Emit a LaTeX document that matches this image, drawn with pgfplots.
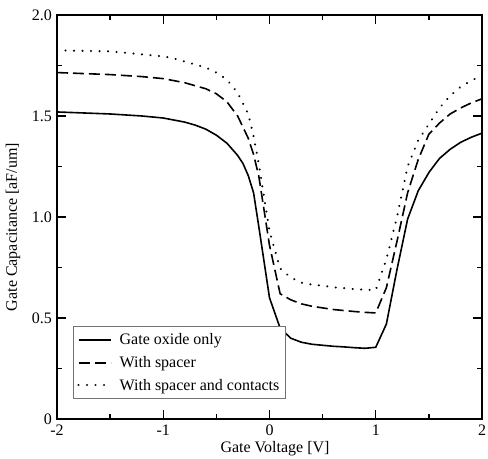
\documentclass[border=0pt]{standalone}
\usepackage{fontspec}
\setmainfont{Liberation Serif}
\usepackage{pgfplots}
\pgfplotsset{compat=1.18}
\begin{document}
\begin{tikzpicture}[font=\fontsize{16bp}{19bp}\selectfont]
\path[use as bounding box] (-57bp,-40bp) rectangle (431bp,419bp);
\begin{axis}[
  scale only axis, width=425bp, height=404bp,
  at={(0,0)}, anchor=south west,
  xmin=-2, xmax=2, ymin=0, ymax=2,
  xtick={-2,-1,0,1,2}, xticklabels={-2,-1,0,1,2},
  minor xtick={-1.5,-0.5,0.5,1.5},
  ytick={0,0.5,1,1.5,2}, yticklabels={0,0.5,1.0,1.5,2.0},
  minor ytick={0.25,0.75,1.25,1.75},
  tick align=inside, major tick length=9bp, minor tick length=5bp,
  every tick/.style={line width=1.4bp, black},
  axis line style={line width=1.6bp},
  tick label style={font=\fontsize{16bp}{19bp}\selectfont},
  xticklabel style={inner sep=0pt, yshift=-6bp},
  yticklabel style={inner sep=0pt, xshift=-5bp},
  /pgf/number format/assume math mode=true,
  xlabel={Gate Voltage [V]}, ylabel={Gate Capacitance [aF/um]},
  label style={font=\fontsize{16bp}{19bp}\selectfont},
  xlabel style={at={(axis description cs:0.513,-0.074)}, anchor=center},
  ylabel style={at={(axis description cs:-0.1035,0.475)}, anchor=center},
  legend cell align=left,
  legend style={at={(rel axis cs:0.0376,0.0495)}, anchor=south west, draw=black!55, line width=0.8bp,
    inner xsep=4bp, inner ysep=5bp, row sep=6bp, font=\fontsize{16bp}{19bp}\selectfont,
    /tikz/column 1/.style={column sep=6bp}},
  legend image code/.code={\draw[#1] (0bp,0bp) -- (32bp,0bp);},
]
\addplot[black, line width=1.6bp] coordinates {
(-2.0,1.52) (-1.5,1.51) (-1.2,1.50) (-1.0,1.49) (-0.9,1.48) (-0.8,1.47) (-0.7,1.455)
(-0.6,1.435) (-0.5,1.405) (-0.4,1.365) (-0.3,1.305) (-0.25,1.265) (-0.2,1.205) (-0.15,1.12) (-0.1,0.95) (0.0,0.60)
(0.1,0.45) (0.2,0.40)
(0.3,0.38) (0.4,0.37) (0.5,0.365) (0.6,0.36) (0.7,0.357) (0.8,0.353) (0.9,0.35)
(1.0,0.355) (1.1,0.47) (1.2,0.74) (1.3,0.99) (1.4,1.13) (1.5,1.22) (1.6,1.29)
(1.7,1.335) (1.8,1.37) (1.9,1.395) (2.0,1.415)};
\addlegendentry{Gate oxide only}
\addplot[black, line width=1.6bp, dash pattern=on 11bp off 5bp] coordinates {
(-2.0,1.715) (-1.5,1.705) (-1.2,1.695) (-1.0,1.685) (-0.9,1.675) (-0.8,1.665) (-0.7,1.65)
(-0.6,1.635) (-0.5,1.61) (-0.4,1.57) (-0.3,1.50) (-0.2,1.39) (-0.15,1.31) (-0.1,1.20) (0.0,0.86)
(0.1,0.62) (0.2,0.59)
(0.3,0.57) (0.4,0.558) (0.5,0.55) (0.6,0.542) (0.7,0.537) (0.8,0.532) (0.9,0.528)
(1.0,0.525) (1.1,0.65) (1.2,0.88) (1.3,1.12) (1.4,1.285) (1.5,1.41) (1.6,1.465)
(1.7,1.51) (1.8,1.54) (1.9,1.565) (2.0,1.585)};
\addlegendentry{With spacer}
\addplot[black, line width=2.3bp, line cap=round, dash pattern=on 0.01bp off 8.5bp] coordinates {
(-2.0,1.825) (-1.5,1.82) (-1.2,1.805) (-1.0,1.795) (-0.9,1.785) (-0.8,1.77) (-0.7,1.755)
(-0.6,1.74) (-0.5,1.715) (-0.4,1.68) (-0.3,1.615) (-0.2,1.51) (-0.15,1.40) (-0.1,1.26) (0.0,0.93)
(0.1,0.745) (0.2,0.70)
(0.3,0.675) (0.4,0.665) (0.5,0.66) (0.6,0.652) (0.7,0.648) (0.8,0.643) (0.9,0.64)
(1.0,0.638) (1.1,0.79) (1.2,1.00) (1.3,1.25) (1.4,1.38) (1.5,1.46) (1.6,1.54)
(1.7,1.60) (1.8,1.645) (1.9,1.675) (2.0,1.70)};
\addlegendentry{With spacer and contacts}
\end{axis}
\end{tikzpicture}
\end{document}
